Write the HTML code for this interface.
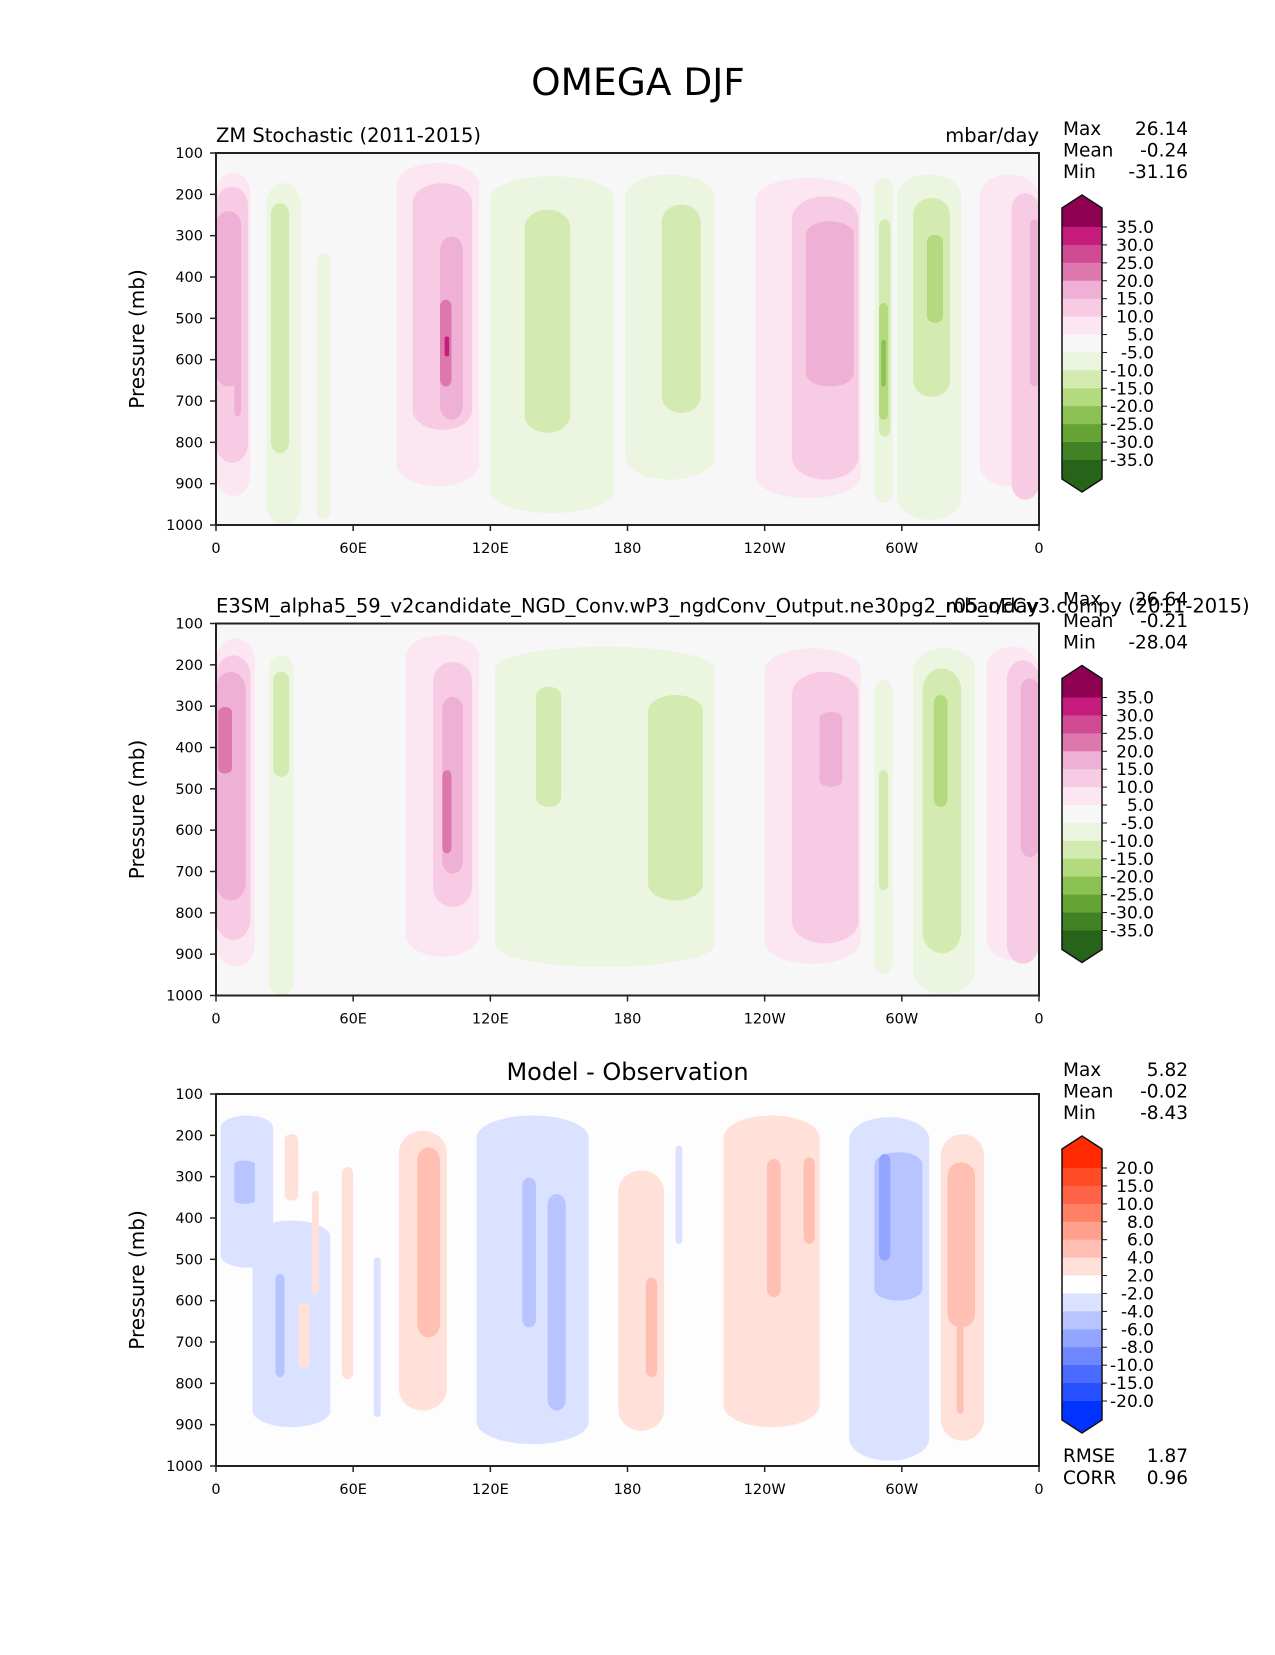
<!DOCTYPE html>
<html><head><meta charset="utf-8"><style>
body{margin:0;background:#fff}
svg text{font-family:"DejaVu Sans","Liberation Sans",sans-serif;fill:#000}
</style></head><body>
<svg id="chart" xmlns="http://www.w3.org/2000/svg" width="1275" height="1650" viewBox="0 0 1275 1650">
<rect width="1275" height="1650" fill="#fff"/>
<text x="638" y="95" font-size="37.5" text-anchor="middle">OMEGA DJF</text>
</svg>
<script>
// ---- data ----
const xTicks = [0, 60, 120, 180, 240, 300, 360];
const xTickLabels = ["0", "60E", "120E", "180", "120W", "60W", "0"];
const yTicks = [100, 200, 300, 400, 500, 600, 700, 800, 900, 1000];
const cbLevelsMain = ["35.0","30.0","25.0","20.0","15.0","10.0","5.0","-5.0","-10.0","-15.0","-20.0","-25.0","-30.0","-35.0"];
const cbColorsMain = ["#8e0152","#c51b7d","#d14b94","#de77ae","#eeb0d5","#f7cbe4","#fbe6f1","#f7f7f7","#ebf5e0","#d3ebb0","#b3da7f","#8bc152","#65a434","#408224","#276419"];
const cbLevelsDiff = ["20.0","15.0","10.0","8.0","6.0","4.0","2.0","-2.0","-4.0","-6.0","-8.0","-10.0","-15.0","-20.0"];
const cbColorsDiff = ["#ff2a00","#ff4a25","#ff6347","#ff8065","#ffa08c","#ffc0b3","#ffe1da","#ffffff","#dbe2ff","#b7c4ff","#93a6ff","#6f88ff","#4b6aff","#2650ff","#0033ff"];
// blobs: [lonStart, lonEnd, pTop, pBottom, level]
const fieldModel = [
[0,15,148,930,1],[0,14,181,850,2],[0,11,241,665,3],[8,11,568,737,3],
[22,37,173,1000,-1],[24,32,221,826,-2],[44,50,342,987,-1],
[79,115,124,906,1],[86,112,173,770,2],[98,108,302,745,3],[98,103,455,665,4],[100,102,544,592,5],
[120,174,156,971,-1],[135,155,237,777,-2],[179,218,152,890,-1],[195,212,225,729,-2],
[236,282,160,935,1],[252,281,205,890,2],[258,279,265,665,3],
[288,296,160,947,-1],[290,295,261,786,-2],[290,294,463,745,-3],[291,293,552,665,-4],
[298,326,152,987,-1],[305,321,209,690,-2],[311,318,298,511,-3],
[334,360,152,906,1],[348,360,197,939,2],[356,360,261,665,3]];
const fieldObs = [
[0,17,136,930,1],[0,15,177,866,2],[0,13,217,770,3],[1,7,302,463,4],
[23,34,177,1000,-1],[25,32,217,471,-2],
[83,115,128,906,1],[95,112,193,786,2],[99,108,277,705,3],[99,103,455,656,4],
[122,218,156,931,-1],[140,151,253,544,-2],[189,213,273,770,-2],
[240,282,160,923,1],[252,281,217,874,2],[264,274,314,495,3],
[288,296,237,947,-1],[290,294,455,745,-2],
[305,332,160,995,-1],[309,326,209,898,-2],[314,320,273,544,-3],
[337,360,156,915,1],[346,360,189,923,2],[352,360,233,665,3]];
const fieldDiff = [
[2,25,152,520,-1],[16,50,406,906,-1],[8,17,261,366,-2],[26,30,535,785,-2],
[30,36,197,358,1],[36,41,604,761,1],[55,60,277,790,1],[42,45,334,584,1],
[69,72,495,882,-1],[80,101,189,866,1],[88,98,229,689,2],
[114,163,152,947,-1],[134,140,302,665,-2],[145,153,342,866,-2],
[176,196,285,915,1],[188,193,544,785,2],[201,204,225,463,-1],
[222,264,152,906,1],[241,247,257,592,2],[257,262,253,463,2],
[277,312,156,987,-1],[288,309,241,600,-2],[290,295,245,503,-3],
[317,336,197,939,1],[320,332,265,665,2],[324,327,657,874,2]];
const statsModel = ["26.14","-0.24","-31.16"];
const statsObs = ["26.64","-0.21","-28.04"];
const statsDiff = ["5.82","-0.02","-8.43"];

// ---- drawing ----
const NS="http://www.w3.org/2000/svg";
const svg=document.getElementById('chart');
function mk(tag,attrs,parent){const e=document.createElementNS(NS,tag);for(const k in attrs)e.setAttribute(k,attrs[k]);(parent||svg).appendChild(e);return e;}
const PX0=216,PX1=1039,PH=372;
function xScale(lon){return PX0+(lon/360)*(PX1-PX0);}
function yScaleF(top){return p=>top+(p-100)/900*PH;}

function panel(top,field,colorFn,bg,idx,leftTitle,rightTitle,stats,levels,colors,centerTitle){
  const y=yScaleF(top);
  const g=mk('g',{});
  
  
  const cp=mk('clipPath',{id:'clip'+idx},g);
  mk('rect',{x:PX0,y:top,width:PX1-PX0,height:PH},cp);
  const bgr=mk('rect',{x:PX0,y:top,width:PX1-PX0,height:PH,fill:bg},g);
  
  
  const fg=mk('g',{'clip-path':'url(#clip'+idx+')'},g);
  const sorted=field.slice().sort((a,b)=>Math.abs(a[4])-Math.abs(b[4]));
  sorted.forEach(b=>{
    const x0=xScale(b[0]),x1=xScale(b[1]),y0=y(b[2]),y1=y(b[3]);
    const w=x1-x0,h=y1-y0;
    const r=mk('rect',{x:x0,y:y0,width:w,height:h,rx:w/2,ry:Math.min(h*0.08,w*0.6,22),fill:colorFn(b[4])},fg);
    
    
  });
  mk('rect',{x:PX0,y:top,width:PX1-PX0,height:PH,fill:'none',stroke:'#222','stroke-width':2},g);
  yTicks.forEach(p=>{
    const yy=y(p);
    mk('line',{x1:PX0-6,x2:PX0,y1:yy,y2:yy,stroke:'#222','stroke-width':1.5},g);
    const t=mk('text',{x:PX0-13,y:yy+5,'font-size':14.5,'text-anchor':'end'},g);
    t.textContent=p;
    
    
  });
  xTicks.forEach((v,i)=>{
    const xx=xScale(v);
    mk('line',{x1:xx,x2:xx,y1:top+PH,y2:top+PH+6,stroke:'#222','stroke-width':1.5},g);
    const t=mk('text',{x:xx,y:top+PH+28,'font-size':14.5,'text-anchor':'middle'},g);
    t.textContent=xTickLabels[i];
    
    
  });
  const yl=mk('text',{x:0,y:0,'font-size':20,'text-anchor':'middle',transform:`translate(144,${top+PH/2}) rotate(-90)`},g);
  yl.textContent='Pressure (mb)';
  
  
  if(leftTitle){const t=mk('text',{x:PX0,y:top-11,'font-size':19.5},g);t.textContent=leftTitle;
    }
  if(rightTitle){const t=mk('text',{x:PX1,y:top-11,'font-size':19.5,'text-anchor':'end'},g);t.textContent=rightTitle;
    }
  if(centerTitle){const t=mk('text',{x:(PX0+PX1)/2,y:top-14,'font-size':24,'text-anchor':'middle'},g);t.textContent=centerTitle;
    }
  ['Max','Mean','Min'].forEach((n,i)=>{
    const a=mk('text',{x:1063,y:top-18+i*21.5,'font-size':18.5},g);a.textContent=n;
    
    const b=mk('text',{x:1188,y:top-18+i*21.5,'font-size':18.5,'text-anchor':'end'},g);b.textContent=stats[i];
    
  });
  // colorbar
  const cx0=1062,cx1=1102,b0=top+74,step=(top+307-b0)/(levels.length-1);
  const cb=mk('g',{},g);
  
  
  const tip=top+42,tipB=top+339,shTop=top+55,shBot=top+326;
  mk('polygon',{points:`${cx0},${b0} ${cx0},${shTop} ${(cx0+cx1)/2},${tip} ${cx1},${shTop} ${cx1},${b0}`,fill:colors[0]},cb);
  for(let i=0;i<levels.length-1;i++){
    mk('rect',{x:cx0,y:b0+i*step,width:cx1-cx0,height:step+0.5,fill:colors[i+1]},cb);
  }
  const bl=b0+(levels.length-1)*step;
  mk('polygon',{points:`${cx0},${bl} ${cx0},${shBot} ${(cx0+cx1)/2},${tipB} ${cx1},${shBot} ${cx1},${bl}`,fill:colors[colors.length-1]},cb);
  mk('polygon',{points:`${cx0},${shTop} ${(cx0+cx1)/2},${tip} ${cx1},${shTop} ${cx1},${shBot} ${(cx0+cx1)/2},${tipB} ${cx0},${shBot}`,fill:'none',stroke:'#111','stroke-width':1.5},cb);
  levels.forEach((l,i)=>{
    const yy=b0+i*step;
    mk('line',{x1:cx1,x2:cx1+5,y1:yy,y2:yy,stroke:'#111','stroke-width':1},cb);
    const t=mk('text',{x:1154,y:yy+6,'font-size':17,'text-anchor':'end'},cb);t.textContent=l;
    
  });
}
function mainColor(l){const m={5:1,4:3,3:4,2:5,1:6,'-1':8,'-2':9,'-3':10,'-4':11};return cbColorsMain[m[l]];}
function diffColor(l){const m={3:4,2:5,1:6,'-1':8,'-2':9,'-3':10};return cbColorsDiff[m[l]];}
panel(153,fieldModel,mainColor,'#f7f7f7',1,'ZM Stochastic (2011-2015)','mbar/day',statsModel,cbLevelsMain,cbColorsMain,null);
panel(623.5,fieldObs,mainColor,'#f7f7f7',2,'E3SM_alpha5_59_v2candidate_NGD_Conv.wP3_ngdConv_Output.ne30pg2_r05_oECv3.compy (2011-2015)','mbar/day',statsObs,cbLevelsMain,cbColorsMain,null);
panel(1094,fieldDiff,diffColor,'#fdfdfd',3,null,null,statsDiff,cbLevelsDiff,cbColorsDiff,'Model - Observation');
[['RMSE','1.87',1462],['CORR','0.96',1484]].forEach(r=>{
  const a=mk('text',{x:1063,y:r[2],'font-size':18.5});a.textContent=r[0];
  
  const b=mk('text',{x:1188,y:r[2],'font-size':18.5,'text-anchor':'end'});b.textContent=r[1];
  
});
</script>
</body></html>
